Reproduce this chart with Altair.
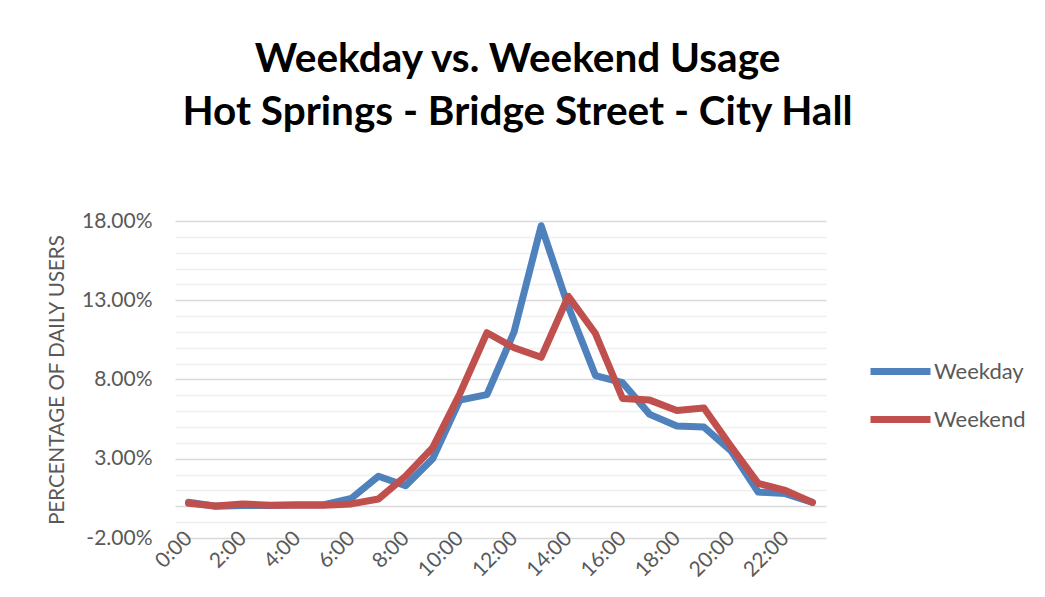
import altair as alt
import pandas as pd

hours = [f"{h}:00" for h in range(24)]
weekday = [0.25, 0.0, 0.05, 0.05, 0.1, 0.1, 0.5, 1.9, 1.3, 3.0, 6.7, 7.05, 11.0, 17.7,
           12.6, 8.25, 7.8, 5.8, 5.07, 5.0, 3.5, 0.9, 0.8, 0.25]
weekend = [0.19, 0.02, 0.15, 0.06, 0.06, 0.06, 0.15, 0.46, 1.9, 3.7, 7.1, 10.95, 10.0, 9.4,
           13.25, 10.9, 6.8, 6.7, 6.05, 6.2, 3.77, 1.45, 1.0, 0.25]
series = ["Weekday", "Weekend"]
colors = ["#4F81BD", "#C0504D"]

rows = []
for i, h in enumerate(hours):
    rows.append({"hour": h, "order": i, "series": "Weekday", "value": weekday[i] / 100})
    rows.append({"hour": h, "order": i, "series": "Weekend", "value": weekend[i] / 100})
df = pd.DataFrame(rows)

FONT = "Lato"
GRAY = "#595959"
major_test = ("abs((datum.value + 0.02) / 0.05 - round((datum.value + 0.02) / 0.05)) < 0.001"
              " || abs(datum.value) < 0.0001")
label_test = "abs((datum.value + 0.02) / 0.05 - round((datum.value + 0.02) / 0.05)) < 0.001"

y_values = [round(-0.02 + 0.01 * k, 4) for k in range(21)]
x_values = hours[::2]

chart = alt.Chart(df).mark_line(strokeWidth=7, strokeCap="round", strokeJoin="round").encode(
    x=alt.X("hour:N", sort=hours,
            scale=alt.Scale(type="point", padding=0.5),
            axis=alt.Axis(values=x_values, labelAngle=-45, labelAlign="right",
                          labelBaseline="middle", labelPadding=-3, ticks=False,
                          domain=False, grid=False, title=None,
                          labelFont=FONT, labelFontSize=21, labelColor=GRAY)),
    y=alt.Y("value:Q", scale=alt.Scale(domain=[-0.02, 0.18], nice=False, zero=False),
            axis=alt.Axis(values=y_values,
                          labelExpr=f"({label_test}) ? replace(format(datum.value, '.2%'), '\u2212', '-') : ''",
                          gridColor={"condition": {"test": major_test, "value": "#d9d9d9"},
                                     "value": "#f0f0f0"},
                          gridWidth={"condition": {"test": major_test, "value": 1.6},
                                     "value": 1.3},
                          ticks=False, domain=False, labelPadding=23,
                          labelFont=FONT, labelFontSize=21, labelColor=GRAY,
                          title="PERCENTAGE OF DAILY USERS", titleFont=FONT,
                          titleFontSize=20.5, titleFontWeight="normal", titleColor=GRAY,
                          titlePadding=14)),
    color=alt.Color("series:N", scale=alt.Scale(domain=series, range=colors),
                    legend=alt.Legend(title=None, orient="none", legendX=692, legendY=117,
                                      symbolType="stroke", symbolSize=3600,
                                      symbolStrokeWidth=7, rowPadding=-14,
                                      labelFont=FONT, labelFontSize=22, labelColor=GRAY,
                                      labelOffset=0)),
    order=alt.Order("series:N"),
).properties(
    width=651, height=317,
    title=alt.TitleParams(["Weekday vs. Weekend Usage", "Hot Springs - Bridge Street - City Hall"],
                          font=FONT, fontSize=40.5, fontWeight="bold", color="#000000",
                          anchor="middle", dx=17, offset=77, lineHeight=53),
    autosize=alt.AutoSizeParams(type="none"),
    padding={"left": 167, "top": 213, "right": 211, "bottom": 51},
).configure_view(stroke=None)

chart.save("out.html", embed_options={"renderer": "svg", "actions": False})
